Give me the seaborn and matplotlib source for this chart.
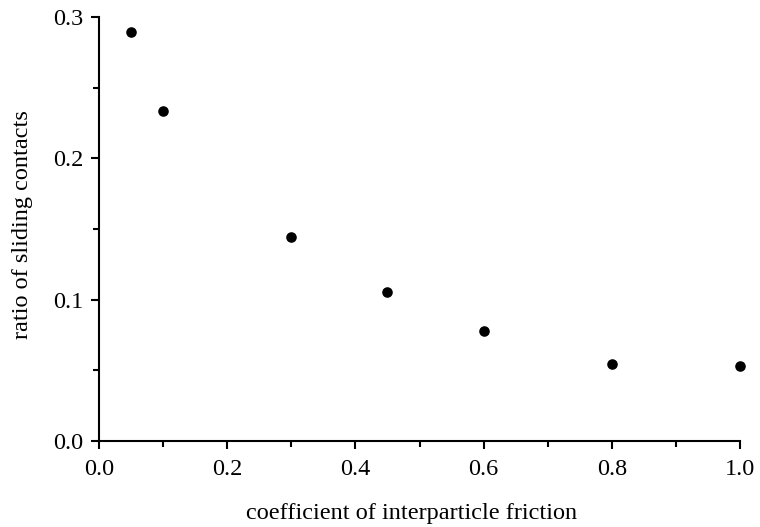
import matplotlib
matplotlib.use("Agg")
import matplotlib.pyplot as plt
import seaborn as sns
import pandas as pd
from matplotlib.ticker import MultipleLocator

friction = [0.05, 0.1, 0.3, 0.45, 0.6, 0.8, 1.0]
sliding_ratio = [0.289, 0.2335, 0.1443, 0.1054, 0.0778, 0.0545, 0.0531]

df = pd.DataFrame({"friction": friction, "ratio": sliding_ratio})

sns.set_theme(style="ticks")
plt.rcParams["font.family"] = ["Liberation Serif", "DejaVu Serif"]

fig = plt.figure(figsize=(7.6, 5.27), dpi=100)
ax = fig.add_axes([0.130, 0.163, 0.844, 0.805])
sns.scatterplot(data=df, x="friction", y="ratio", ax=ax, color="black", s=58,
                edgecolor="black", linewidth=0, zorder=3, clip_on=False)

ax.set_xlim(0.0, 1.0)
ax.set_ylim(0.0, 0.3)
ax.xaxis.set_major_locator(MultipleLocator(0.2))
ax.xaxis.set_minor_locator(MultipleLocator(0.1))
ax.yaxis.set_major_locator(MultipleLocator(0.1))
ax.yaxis.set_minor_locator(MultipleLocator(0.05))
ax.xaxis.set_major_formatter(matplotlib.ticker.FormatStrFormatter("%.1f"))
ax.yaxis.set_major_formatter(matplotlib.ticker.FormatStrFormatter("%.1f"))
for s in ["top", "right"]:
    ax.spines[s].set_visible(False)
for s in ["left", "bottom"]:
    ax.spines[s].set_linewidth(1.5)
    ax.spines[s].set_color("black")
ax.tick_params(which="major", direction="out", length=6, width=1.5, colors="black",
               labelsize=17.5)
ax.tick_params(axis="x", which="major", pad=7)
ax.tick_params(axis="y", which="major", pad=5)
ax.tick_params(which="minor", direction="out", length=4, width=1.5, colors="black")
ax.set_xlabel("coefficient of interparticle friction", fontsize=17.5, color="black")
ax.set_ylabel("ratio of sliding contacts", fontsize=17.5, color="black")
ax.xaxis.set_label_coords(0.488, -0.145)
ax.yaxis.set_label_coords(-0.102, 0.511)

fig.savefig("out.png", dpi=100)
